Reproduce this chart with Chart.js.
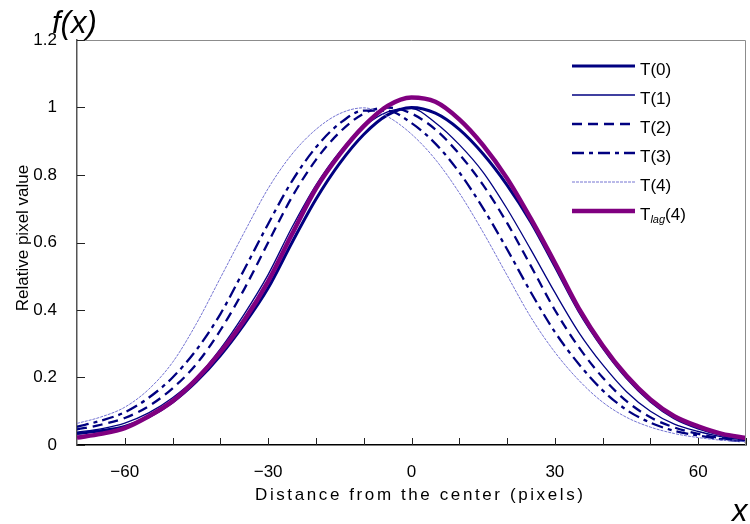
<!DOCTYPE html>
<html>
<head>
<meta charset="utf-8">
<script src="https://cdn.jsdelivr.net/npm/chart.js@4"></script>
<style>
  body { margin: 0; background: #fff; }
  canvas { display: block; }
</style>
</head>
<body>
<canvas id="chart" width="750" height="524"></canvas>
<script>
// distance from the center (pixels), one sample every 5
const xValues = [-70, -65, -60, -55, -50, -45, -40, -35, -30, -25, -20, -15, -10, -5, 0,
                 5, 10, 15, 20, 25, 30, 35, 40, 45, 50, 55, 60, 65, 70];

// relative pixel value
const t0 = [0.034, 0.042, 0.055, 0.083, 0.127, 0.188, 0.265, 0.358, 0.465, 0.6, 0.728, 0.835, 0.92, 0.978, 1.0,
            0.983, 0.935, 0.862, 0.77, 0.66, 0.53, 0.398, 0.29, 0.2, 0.13, 0.08, 0.05, 0.03, 0.018];
const t1 = [0.038, 0.048, 0.065, 0.095, 0.14, 0.2, 0.285, 0.388, 0.505, 0.645, 0.77, 0.869, 0.943, 0.987, 0.997,
            0.955, 0.89, 0.808, 0.7, 0.578, 0.452, 0.334, 0.238, 0.158, 0.1, 0.062, 0.04, 0.024, 0.014];
const t2 = [0.046, 0.06, 0.08, 0.115, 0.168, 0.24, 0.34, 0.462, 0.6, 0.735, 0.845, 0.927, 0.982, 1.0, 0.982,
            0.935, 0.862, 0.77, 0.658, 0.53, 0.4, 0.29, 0.2, 0.13, 0.082, 0.052, 0.033, 0.02, 0.012];
const t3 = [0.054, 0.072, 0.097, 0.14, 0.2, 0.282, 0.388, 0.52, 0.655, 0.782, 0.882, 0.953, 0.991, 0.99, 0.954,
            0.893, 0.808, 0.701, 0.58, 0.452, 0.335, 0.24, 0.162, 0.104, 0.066, 0.042, 0.028, 0.017, 0.01];
const t4 = [0.064, 0.083, 0.112, 0.165, 0.245, 0.36, 0.495, 0.63, 0.76, 0.862, 0.935, 0.982, 0.999, 0.973, 0.921,
            0.846, 0.747, 0.63, 0.503, 0.378, 0.275, 0.192, 0.127, 0.082, 0.053, 0.034, 0.022, 0.014, 0.01];
const tLag = [0.022, 0.033, 0.05, 0.085, 0.13, 0.195, 0.275, 0.37, 0.485, 0.625, 0.76, 0.862, 0.945, 1.005, 1.03,
              1.017, 0.965, 0.888, 0.79, 0.67, 0.54, 0.405, 0.295, 0.205, 0.135, 0.085, 0.055, 0.033, 0.021];

const xLabelEvery = 30;
const yTicks = [0, 0.2, 0.4, 0.6, 0.8, 1, 1.2];

const series = [
    { label: 'T(0)', sub: '', tail: '', data: t0, color: '#000080', width: 3, dash: [] },
    { label: 'T(1)', sub: '', tail: '', data: t1, color: '#000080', width: 1.3, dash: [] },
    { label: 'T(2)', sub: '', tail: '', data: t2, color: '#000080', width: 2.3, dash: [10, 6] },
    { label: 'T(3)', sub: '', tail: '', data: t3, color: '#000080', width: 2.3, dash: [12, 5, 4, 5] },
    { label: 'T(4)', sub: '', tail: '', data: t4, color: '#7474d2', width: 1, dash: [3, 1] },
    { label: 'T', sub: 'lag', tail: '(4)', data: tLag, color: '#800080', width: 4.5, dash: [] },
];

const FONT = '"Liberation Sans", Arial, sans-serif';

// inward tick marks, frame, legend and titles
const decorations = {
    id: 'decorations',
    afterDraw(chart) {
        const ctx = chart.ctx;
        const area = chart.chartArea;
        const xs = chart.scales.x;
        const ys = chart.scales.y;
        ctx.save();

        // top and right frame
        ctx.strokeStyle = '#8c8c8c';
        ctx.lineWidth = 1;
        ctx.beginPath();
        ctx.moveTo(area.left, area.top + 0.5);
        ctx.lineTo(area.right - 0.5, area.top + 0.5);
        ctx.lineTo(area.right - 0.5, area.bottom);
        ctx.stroke();

        // tick marks pointing into the plot
        ctx.strokeStyle = '#222';
        ctx.beginPath();
        for (let v = -60; v <= 70; v += 10) {
            const px = Math.round(xs.getPixelForValue(v)) + 0.5;
            ctx.moveTo(px, area.bottom);
            ctx.lineTo(px, area.bottom - 7);
        }
        yTicks.forEach((v) => {
            const py = Math.round(ys.getPixelForValue(v)) + 0.5;
            ctx.moveTo(area.left, py);
            ctx.lineTo(area.left + 8, py);
        });
        ctx.stroke();

        // legend
        const lx = 572, lw = 63, ly = 66, step = 29;
        series.forEach((s, i) => {
            const y = ly + i * step;
            ctx.strokeStyle = s.color;
            ctx.lineWidth = s.width;
            ctx.setLineDash(s.dash);
            ctx.beginPath();
            ctx.moveTo(lx, y);
            ctx.lineTo(lx + lw, y);
            ctx.stroke();
            ctx.setLineDash([]);
            ctx.fillStyle = '#000';
            ctx.textBaseline = 'middle';
            ctx.textAlign = 'left';
            ctx.font = '17px ' + FONT;
            let tx = lx + lw + 5;
            ctx.fillText(s.label, tx, y + 4);
            tx += ctx.measureText(s.label).width;
            if (s.sub) {
                ctx.font = 'italic 11px ' + FONT;
                ctx.fillText(s.sub, tx, y + 9);
                tx += ctx.measureText(s.sub).width;
                ctx.font = '17px ' + FONT;
                ctx.fillText(s.tail, tx, y + 4);
            }
        });

        // axis titles
        ctx.fillStyle = '#000';
        ctx.font = '17px ' + FONT;
        ctx.save();
        ctx.translate(23, 238);
        ctx.rotate(-Math.PI / 2);
        ctx.textAlign = 'center';
        ctx.textBaseline = 'middle';
        ctx.fillText('Relative pixel value', 0, 0);
        ctx.restore();

        const xTitle = 'Distance from the center (pixels)';
        const plain = ctx.measureText(xTitle).width;
        ctx.letterSpacing = ((328 - plain) / (xTitle.length - 1)).toFixed(2) + 'px';
        ctx.textAlign = 'left';
        ctx.textBaseline = 'middle';
        ctx.fillText(xTitle, 255, 495);
        ctx.letterSpacing = '0px';

        ctx.font = 'italic 31px ' + FONT;
        ctx.textBaseline = 'alphabetic';
        ctx.fillText('f(x)', 52, 33);
        ctx.fillText('x', 732, 521);

        ctx.restore();
    },
};

new Chart(document.getElementById('chart').getContext('2d'), {
    type: 'line',
    data: {
        labels: xValues,
        datasets: series.map((s, i) => ({
            label: s.label + s.sub + s.tail,
            data: xValues.map((x, j) => ({ x: x, y: s.data[j] })),
            borderColor: s.color,
            borderWidth: s.width,
            borderDash: s.dash,
            pointRadius: 0,
            fill: false,
            cubicInterpolationMode: 'monotone',
            order: series.length - i,
        })),
    },
    options: {
        responsive: false,
        animation: false,
        layout: { padding: { top: 40, right: 4, left: 0, bottom: 0 } },
        plugins: {
            legend: { display: false },
            tooltip: { enabled: false },
        },
        scales: {
            x: {
                type: 'linear',
                min: -70,
                max: 70,
                grid: { display: false, drawTicks: false },
                border: { color: '#000', width: 1.5 },
                ticks: {
                    stepSize: 10,
                    autoSkip: false,
                    maxRotation: 0,
                    padding: 17,
                    color: '#000',
                    font: { family: FONT, size: 17 },
                    callback: (v) => (v % xLabelEvery === 0 ? String(v).replace('-', '\u2212') : ''),
                },
                afterFit: (scale) => {
                    scale.height = 79;
                    scale.paddingLeft = 0;
                    scale.paddingRight = 0;
                },
            },
            y: {
                min: 0,
                max: 1.2,
                grid: { display: false, drawTicks: false },
                border: { color: '#555', width: 1.5 },
                ticks: {
                    stepSize: 0.2,
                    padding: 20,
                    color: '#000',
                    font: { family: FONT, size: 17 },
                    callback: (v) => String(Math.round(v * 10) / 10),
                },
                afterFit: (scale) => { scale.width = 77; },
            },
        },
    },
    plugins: [decorations],
});
</script>
</body>
</html>
